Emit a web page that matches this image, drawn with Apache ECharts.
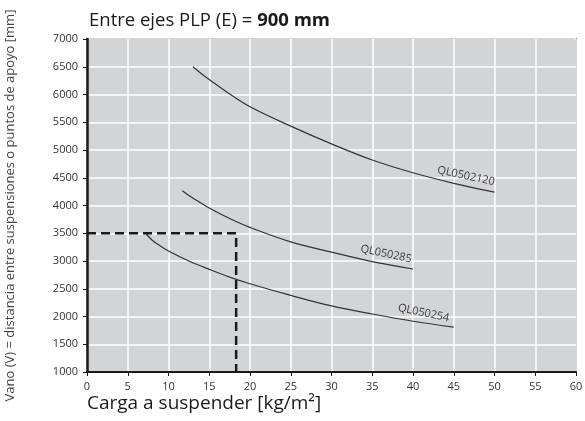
<!DOCTYPE html>
<html>
<head>
<meta charset="utf-8">
<script src="https://cdn.jsdelivr.net/npm/echarts@6/dist/echarts.min.js"></script>
<style>
  html, body { margin: 0; padding: 0; background: #fff; }
  #chart { width: 585px; height: 421px; }
</style>
</head>
<body>
<div id="chart"></div>
<script>
// Load on the profile [kg/m²] and the matching maximum span [mm]
const loadsQL0502120 = [13, 14, 15, 17.5, 20, 25, 30, 35, 40, 45, 50];
const spanQL0502120  = [6500, 6380, 6270, 6010, 5780, 5430, 5110, 4820, 4590, 4400, 4240];

const loadsQL050285 = [11.7, 12.6, 13.5, 15, 17.5, 20, 25, 30, 35, 40];
const spanQL050285  = [4265, 4170, 4090, 3955, 3765, 3605, 3345, 3160, 2990, 2856];

const loadsQL050254 = [7.2, 8, 9, 10, 12.5, 15, 17.5, 20, 25, 30, 35, 40, 45];
const spanQL050254  = [3500, 3375, 3270, 3180, 3000, 2850, 2710, 2590, 2380, 2190, 2045, 1915, 1810];

// Worked example: 3500 mm span read across to the allowed load
const exampleSpan = 3500;
const exampleLoad = 18.3;

// Curve names and where their names sit (load, span)
const curveNames = ['QL0502120', 'QL050285', 'QL050254'];
const curveLabelAt = [[46.5, 4530], [36.7, 3126], [41.3, 2063]];

const xTicks = [0, 60, 5];      // min, max, step
const yTicks = [1000, 7000, 500];

const pairs = (xs, ys) => xs.map((x, i) => [x, ys[i]]);

const font = '"Open Sans", "DejaVu Sans", sans-serif';
const inkCurve = '#333333';

function curveSeries(name, data, labelAt) {
  return {
    name: name,
    type: 'line',
    data: data,
    smooth: 0.35,
    showSymbol: false,
    symbol: 'none',
    lineStyle: { color: inkCurve, width: 1.2 },
    silent: true,
    z: 3,
    markPoint: {
      symbol: 'circle',
      symbolSize: 0,
      silent: true,
      data: [{ coord: labelAt, value: name }],
      label: {
        show: true,
        position: 'inside',
        formatter: name,
        rotate: -12,
        color: '#3a3a3a',
        fontFamily: font,
        fontSize: 11
      }
    }
  };
}

const plainNumber = v => String(v);

const chart = echarts.init(document.getElementById('chart'), null, { renderer: 'canvas' });

chart.setOption({
  animation: false,
  backgroundColor: '#ffffff',
  title: {
    text: '{n|Entre ejes PLP (E) = }{b|900 mm}',
    left: 84,
    top: 6,
    textStyle: {
      rich: {
        n: { fontFamily: font, fontSize: 18.5, fontWeight: 'normal', color: '#1a1a1a' },
        b: { fontFamily: font, fontSize: 18.5, fontWeight: 'bold', color: '#1a1a1a' }
      }
    }
  },
  grid: {
    left: 87, right: 9, top: 39, bottom: 49,
    outerBoundsMode: 'none',
    containLabel: false,
    show: true,
    backgroundColor: '#d3d4d6',
    borderColor: '#2a2a2a',
    borderWidth: 1.5
  },
  xAxis: {
    type: 'value',
    min: xTicks[0], max: xTicks[1], interval: xTicks[2],
    name: 'Carga a suspender [kg/m²]',
    nameLocation: 'start',
    nameGap: 0,
    nameTextStyle: {
      fontFamily: font, fontSize: 19, color: '#1a1a1a',
      align: 'left', verticalAlign: 'top', padding: [22, 0, 0, 0]
    },
    axisLine: { show: true, lineStyle: { color: '#1a1a1a', width: 2 } },
    axisTick: { show: true, inside: false, length: 4, lineStyle: { color: '#1a1a1a', width: 1 } },
    axisLabel: { margin: 9, fontFamily: font, fontSize: 11, color: '#333', formatter: plainNumber },
    splitLine: { show: true, lineStyle: { color: '#ffffff', width: 1.5 } }
  },
  yAxis: {
    type: 'value',
    min: yTicks[0], max: yTicks[1], interval: yTicks[2],
    name: 'Vano (V) = distancia entre suspensiones o puntos de apoyo [mm]',
    nameLocation: 'middle',
    nameGap: 70,
    nameRotate: 90,
    nameTextStyle: { fontFamily: font, fontSize: 13, color: '#444' },
    axisLine: { show: true, lineStyle: { color: '#1a1a1a', width: 2.5 } },
    axisTick: { show: true, inside: false, length: 4, lineStyle: { color: '#1a1a1a', width: 1 } },
    axisLabel: { margin: 9, fontFamily: font, fontSize: 11, color: '#333', formatter: plainNumber },
    splitLine: { show: true, lineStyle: { color: '#ffffff', width: 1.5 } }
  },
  series: [
    curveSeries(curveNames[0], pairs(loadsQL0502120, spanQL0502120), curveLabelAt[0]),
    curveSeries(curveNames[1], pairs(loadsQL050285, spanQL050285), curveLabelAt[1]),
    curveSeries(curveNames[2], pairs(loadsQL050254, spanQL050254), curveLabelAt[2]),
    {
      name: 'ejemplo',
      type: 'line',
      data: [[xTicks[0], exampleSpan], [exampleLoad, exampleSpan], [exampleLoad, yTicks[0]]],
      showSymbol: false,
      symbol: 'none',
      silent: true,
      lineStyle: { color: '#1a1a1a', width: 2.5, type: [9, 5] },
      z: 4
    }
  ]
});
</script>
</body>
</html>
